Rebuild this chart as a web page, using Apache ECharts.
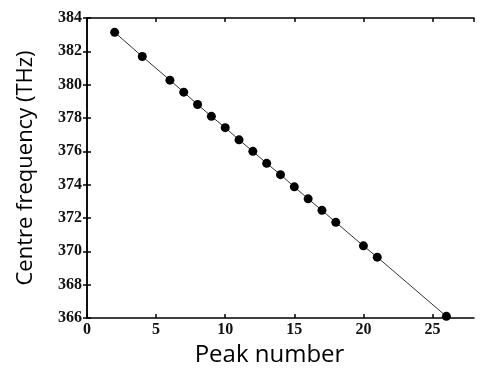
<!DOCTYPE html>
<html>
<head>
<meta charset="utf-8">
<script src="https://cdn.jsdelivr.net/npm/echarts@6/dist/echarts.min.js"></script>
<style>
  html, body { margin: 0; padding: 0; background: #fff; }
  #main { width: 502px; height: 386px; }
</style>
</head>
<body>
<div id="main"></div>
<script>
// peak index and measured centre frequency (THz)
const peaks = [2, 4, 6, 7, 8, 9, 10, 11, 12, 13, 14, 15, 16, 17, 18, 20, 21, 26]
const freqs = [383.14, 381.69, 380.27, 379.55, 378.81, 378.1, 377.42, 376.69, 376.0,
  375.28, 374.6, 373.87, 373.15, 372.46, 371.74, 370.33, 369.65, 366.1]

const tickFont = { fontFamily: 'Liberation Serif', fontWeight: 'bold', fontSize: 16, color: '#111' }

const main = echarts.init(document.getElementById('main'))

const frame = { show: true, lineStyle: { color: '#000', width: 1.5 } }
const ticksIn = { show: true, inside: true, length: 4, lineStyle: { color: '#000', width: 1.5 } }

main.setOption({
  backgroundColor: '#fff',
  animation: false,
  grid: { left: 87, right: 28, top: 18, bottom: 68 },
  xAxis: [
    {
      type: 'value', min: 0, max: 28, interval: 5,
      name: 'Peak number', nameLocation: 'middle', nameGap: 22,
      nameTextStyle: { fontFamily: 'Open Sans', fontSize: 24, color: '#000', padding: [0, 22, 0, 0] },
      axisLine: frame, axisTick: ticksIn, splitLine: { show: false },
      axisLabel: Object.assign({ margin: 4, showMaxLabel: false }, tickFont)
    },
    {
      type: 'value', min: 0, max: 28, interval: 5, position: 'top',
      axisLine: frame, axisTick: ticksIn, splitLine: { show: false },
      axisLabel: { show: false }
    }
  ],
  yAxis: [
    {
      type: 'value', min: 366, max: 384, interval: 2,
      name: 'Centre frequency (THz)', nameLocation: 'middle', nameGap: 50,
      nameTextStyle: { fontFamily: 'Open Sans', fontSize: 22, color: '#000' },
      axisLine: frame, axisTick: ticksIn, splitLine: { show: false },
      axisLabel: Object.assign({ margin: 5 }, tickFont)
    },
    {
      type: 'value', min: 366, max: 384, interval: 2, position: 'right',
      axisLine: frame, axisTick: ticksIn, splitLine: { show: false },
      axisLabel: { show: false }
    }
  ],
  series: [
    {
      type: 'line',
      data: peaks.map((p, i) => [p, freqs[i]]),
      symbol: 'circle',
      symbolSize: 9,
      itemStyle: { color: '#000' },
      lineStyle: { color: '#333', width: 1 }
    }
  ]
})
</script>
</body>
</html>
